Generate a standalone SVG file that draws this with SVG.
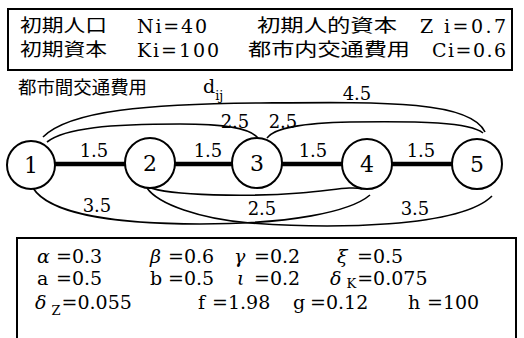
<svg xmlns="http://www.w3.org/2000/svg" width="524" height="338" viewBox="0 0 524 338">
<style>
.jp{font-family:"Noto Sans CJK JP","Noto Sans CJK SC",sans-serif;font-size:18px;fill:#000}
.la{font-family:"DejaVu Serif","Liberation Serif",serif;font-size:19px;fill:#000}
.num{font-family:"DejaVu Serif","Liberation Serif",serif;font-size:18px;fill:#000;text-anchor:middle}
.nd{font-family:"DejaVu Serif","Liberation Serif",serif;font-size:22px;fill:#000;text-anchor:middle}
.pr{font-family:"DejaVu Serif","Liberation Serif",serif;font-size:19px;fill:#000}
.gr{font-style:italic}
.sub{font-size:13px}
.box{fill:none;stroke:#000;stroke-width:2}
.node{fill:#fff;stroke:#000;stroke-width:2}
.thick{stroke:#000;stroke-width:4.5;fill:none}
.thin{stroke:#000;stroke-width:1.6;fill:none}
</style>
<rect width="524" height="338" fill="#fff"/>

<g id="top-box">
<rect class="box" x="8" y="9" width="504" height="61"/>
<text class="jp" x="20" y="32" textLength="87" lengthAdjust="spacingAndGlyphs">初期人口</text>
<text class="la" x="137" y="33" textLength="70" lengthAdjust="spacing">Ni=40</text>
<text class="jp" x="257" y="32" textLength="140" lengthAdjust="spacingAndGlyphs">初期人的資本</text>
<text class="la" x="420" y="33" textLength="86" lengthAdjust="spacing">Z i=0.7</text>
<text class="jp" x="20" y="56" textLength="87" lengthAdjust="spacingAndGlyphs">初期資本</text>
<text class="la" x="137" y="57" textLength="82" lengthAdjust="spacing">Ki=100</text>
<text class="jp" x="248" y="56" textLength="162" lengthAdjust="spacingAndGlyphs">都市内交通費用</text>
<text class="la" x="432" y="57" textLength="74" lengthAdjust="spacing">Ci=0.6</text>
</g>

<g id="title">
<text class="jp" x="18" y="94" textLength="129" lengthAdjust="spacingAndGlyphs">都市間交通費用</text>
<text class="la" x="203" y="93">d<tspan class="sub" dy="7">ij</tspan></text>
</g>

<g id="connectors">
<line class="thick" x1="55" y1="164" x2="126" y2="164"/>
<line class="thick" x1="174" y1="164" x2="233" y2="164"/>
<line class="thick" x1="281" y1="164" x2="344" y2="164"/>
<line class="thick" x1="391" y1="164" x2="453" y2="164"/>
<path class="thin" d="M43,137 C70,110 150,104 260,103 C380,102 470,100 485,132"/>
<path class="thin" d="M47,142 C65,128 110,124 180,124 C225,124 250,128 258,138"/>
<path class="thin" d="M267,138 C275,128 300,123 350,122 C420,121 470,122 483,133"/>
<path class="thin" d="M33,188 C50,215 120,224 200,224 C290,224 350,212 370,195"/>
<path class="thin" d="M147,188 C158,204 200,219 250,223 C330,229 460,228 492,196"/>
<path class="thin" d="M148,187 C170,196 250,197 300,193 C335,190 352,186 362,189"/>
<text class="num" x="94" y="157">1.5</text>
<text class="num" x="208" y="157">1.5</text>
<text class="num" x="313" y="157">1.5</text>
<text class="num" x="421" y="157">1.5</text>
<text class="num" x="357" y="100">4.5</text>
<text class="num" x="235" y="128">2.5</text>
<text class="num" x="283" y="128">2.5</text>
<text class="num" x="97" y="212">3.5</text>
<text class="num" x="262" y="215">2.5</text>
<text class="num" x="415" y="215">3.5</text>
</g>

<g id="node1"><circle class="node" cx="31" cy="165" r="24"/><text class="nd" x="31" y="173">1</text></g>
<g id="node2"><circle class="node" cx="150" cy="163" r="25"/><text class="nd" x="150" y="171">2</text></g>
<g id="node3"><circle class="node" cx="257" cy="163" r="25"/><text class="nd" x="257" y="171">3</text></g>
<g id="node4"><circle class="node" cx="367" cy="164" r="25"/><text class="nd" x="367" y="172">4</text></g>
<g id="node5"><circle class="node" cx="477" cy="164" r="25"/><text class="nd" x="477" y="172">5</text></g>

<g id="param-box">
<rect class="box" x="17" y="238" width="499" height="120"/>
<text class="pr gr" x="37" y="263">α</text>
<text class="pr" x="56" y="263">=0.3</text>
<text class="pr gr" x="150" y="263">β</text>
<text class="pr" x="168" y="263">=0.6</text>
<text class="pr gr" x="234" y="263">γ</text>
<text class="pr" x="254" y="263">=0.2</text>
<text class="pr gr" x="337" y="263">ξ</text>
<text class="pr" x="357" y="263">=0.5</text>

<text class="pr" x="37" y="285">a</text>
<text class="pr" x="56" y="285">=0.5</text>
<text class="pr" x="150" y="285">b</text>
<text class="pr" x="168" y="285">=0.5</text>
<text class="pr gr" x="237" y="285">ι</text>
<text class="pr" x="254" y="285">=0.2</text>
<text class="pr" x="330" y="285"><tspan class="gr">δ</tspan><tspan class="sub" dx="5" dy="3">K</tspan><tspan dy="-3" dx="1">=0.075</tspan></text>

<text class="pr" x="35" y="309"><tspan class="gr">δ</tspan><tspan class="sub" dx="5" dy="6">Z</tspan><tspan dy="-6" dx="1">=0.055</tspan></text>
<text class="pr" x="198" y="309">f</text>
<text class="pr" x="212" y="309">=1.98</text>
<text class="pr" x="293" y="309">g</text>
<text class="pr" x="310" y="309">=0.12</text>
<text class="pr" x="408" y="309">h</text>
<text class="pr" x="427" y="309">=100</text>
</g>
</svg>
